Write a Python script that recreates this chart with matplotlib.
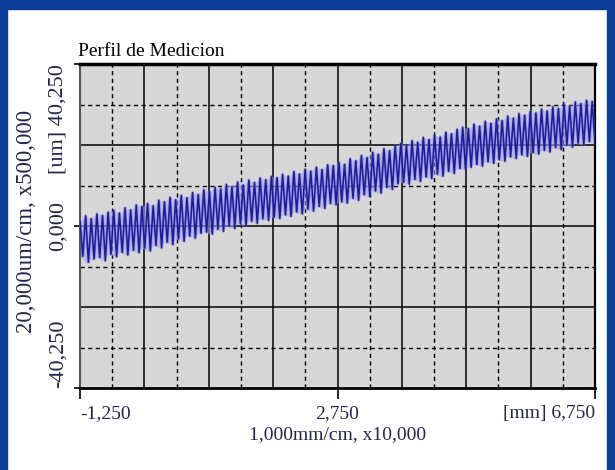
import numpy as np
import matplotlib.pyplot as plt
from matplotlib.patches import Rectangle

# limites y divisiones de la rejilla
x_min, x_max = -1.25, 6.75
y_min, y_max = -40.25, 40.25
x_major = [-1.25, -0.25, 0.75, 1.75, 2.75, 3.75, 4.75, 5.75, 6.75]
x_minor = [-0.75, 0.25, 1.25, 2.25, 3.25, 4.25, 5.25, 6.25]
y_major = [-40.25, -20.125, 0.0, 20.125, 40.25]
y_minor = [-30.1875, -10.0625, 10.0625, 30.1875]

x_ticks = [-1.25, 2.75, 6.75]
x_labels = ["-1,250", "2,750", "[mm] 6,750"]
y_ticks = [-40.25, 0.0, 40.25]
y_labels = ["-40,250", "0,000", "[um] 40,250"]

# picos y valles de la senal (um)
peaks = [1.0, 2.5, 1.8, 3.0, 2.6, 3.4, 3.9, 3.2, 4.5, 4.0, 5.2, 4.8,
         5.6, 5.0, 6.4, 6.0, 7.1, 6.5, 7.6, 7.0, 8.3, 7.8, 9.0,
         8.6, 9.6, 9.2, 10.3, 9.8, 10.9, 10.2, 11.4, 10.8, 11.9, 11.5, 12.3,
         12.0, 12.8, 12.4, 13.5, 12.9, 14.1, 13.6, 14.6, 14.0, 15.2, 15.0,
         15.8, 15.3, 16.7, 16.2, 17.5, 17.0, 18.3, 17.8, 19.2, 18.7, 20.0, 20.5,
         20.1, 21.2, 20.8, 22.0, 21.5, 22.6, 22.1, 23.3, 22.9, 24.0, 24.5,
         24.2, 25.3, 24.8, 26.0, 25.5, 26.6, 26.2, 27.3, 26.8, 27.9, 27.5, 28.4,
         28.1, 29.0, 28.6, 29.6, 29.2, 30.3, 29.8, 30.8, 30.4, 31.2, 30.9]
troughs = [-7.5, -9.0, -8.2, -7.8, -8.6, -7.0, -7.6, -6.5, -7.2, -6.0, -6.6, -5.5,
           -6.2, -4.8, -5.4, -4.0, -4.6, -3.2, -3.8, -2.5, -3.0, -1.8, -1.5,
           -2.0, -0.8, -1.3, 0.0, -0.6, 0.6, 0.1, 1.2, 0.7, 1.8, 1.4, 2.2,
           1.9, 2.8, 2.4, 3.5, 3.0, 4.2, 3.7, 4.9, 4.4, 5.6, 5.3,
           6.0, 5.7, 6.9, 6.4, 7.8, 7.3, 8.7, 8.2, 9.6, 9.1, 10.5, 10.9,
           10.4, 11.6, 11.1, 12.2, 11.8, 12.9, 12.4, 13.6, 13.1, 14.3, 14.0,
           14.6, 15.3, 14.9, 16.0, 15.6, 16.5, 16.1, 17.2, 16.8, 17.7, 17.3, 18.2,
           17.9, 18.8, 18.4, 19.5, 19.0, 20.1, 19.6, 20.6, 20.2, 21.0, 20.7]

signal = np.ravel(np.column_stack([peaks, troughs]))
xs = np.linspace(x_min, x_max, len(signal))

plt.rcParams['font.family'] = ['Liberation Serif', 'DejaVu Serif']
txt = '#25254a'

fig = plt.figure(figsize=(6.15, 4.70), dpi=100)
fig.patch.set_facecolor('white')

# marco azul
blue = '#0b3d96'
fig.patches.append(Rectangle((0, 0), 7 / 615, 1, transform=fig.transFigure, color=blue))
fig.patches.append(Rectangle((607 / 615, 0), 8 / 615, 1, transform=fig.transFigure, color=blue))
fig.patches.append(Rectangle((0, 1 - 9 / 470), 1, 9 / 470, transform=fig.transFigure, color=blue))

ax = fig.add_axes([80 / 615, 82 / 470, 515 / 615, 324 / 470])
ax.set_facecolor('#d7d7d7')
ax.set_xlim(x_min, x_max)
ax.set_ylim(y_min, y_max)

for v in x_minor:
    ax.axvline(v, color='black', lw=1.0, ls=(0, (3, 2.5)), zorder=1)
for v in y_minor:
    ax.axhline(v, color='black', lw=1.0, ls=(0, (3, 2.5)), zorder=1)
for v in x_major[1:-1]:
    ax.axvline(v, color='black', lw=1.1, zorder=1)
for v in y_major[1:-1]:
    ax.axhline(v, color='black', lw=1.1, zorder=1)

ax.fill_between(xs[0::2], troughs, peaks, color='#a9a9e6', alpha=0.55, lw=0, zorder=2)
ax.plot(xs, signal, color='#6a6ae0', lw=2.4, alpha=0.4, zorder=3)
ax.plot(xs, signal, color='#1c1c9c', lw=1.15, zorder=4)

ax.spines['top'].set_linewidth(2.5)
ax.spines['bottom'].set_linewidth(2.0)
ax.spines['right'].set_linewidth(1.6)
ax.spines['left'].set_linewidth(1.5)
ax.spines['left'].set_color('#555555')

ax.set_xticks(x_ticks, x_labels, fontsize=14, color=txt)
ax.tick_params(axis='x', length=8, width=1.2, pad=4)
for lab, ha in zip(ax.get_xticklabels(), ['left', 'center', 'right']):
    lab.set_ha(ha)

ax.set_yticks(y_ticks, y_labels, fontsize=16, color=txt, rotation=90)
ax.tick_params(axis='y', length=4, width=1.2, pad=5)
for lab, va in zip(ax.get_yticklabels(), ['bottom', 'center', 'top']):
    lab.set_va(va)
    lab.set_ha('right')

ax.set_title('Perfil de Medicion', loc='left', fontsize=14, pad=6, color='black', x=-0.004)
ax.set_xlabel('1,000mm/cm, x10,000', fontsize=14, color=txt, labelpad=3)
fig.text(27 / 615, 1 - 221 / 470, '20,000um/cm, x500,000', rotation=90,
         ha='center', va='center', fontsize=16.5, color=txt)

fig.savefig('out.png', dpi=100, facecolor=fig.get_facecolor())
